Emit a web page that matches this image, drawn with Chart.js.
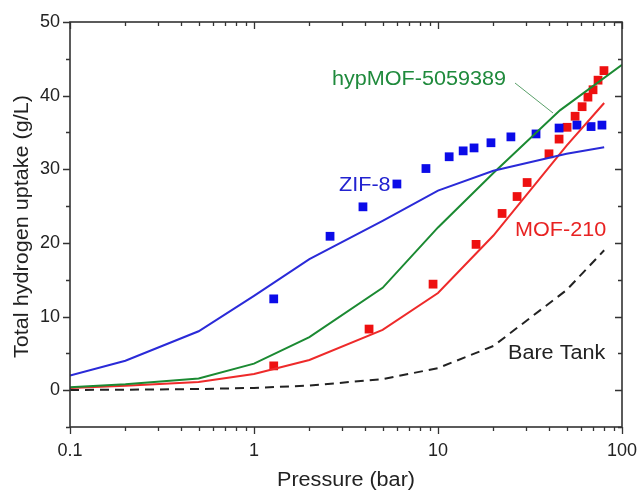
<!DOCTYPE html>
<html>
<head>
<meta charset="utf-8">
<script src="https://cdn.jsdelivr.net/npm/chart.js@4/dist/chart.umd.min.js"></script>
<style>
  html, body { margin: 0; padding: 0; background: #fff; }
  #c { display: block; }
</style>
</head>
<body>
<canvas id="c" width="637" height="492"></canvas>
<script>
// ---- data ----
const simPressure   = [0.1, 0.2, 0.5, 1, 2, 5, 10, 20, 50, 80];
const zif8Sim       = [2.0, 4.0, 8.0, 12.8, 17.8, 23.0, 27.1, 29.8, 32.1, 33.0];
const mof210Sim     = [0.3, 0.6, 1.1, 2.2, 4.1, 8.2, 13.2, 21.0, 33.2, 39.0];
const bareTank      = [0.03, 0.06, 0.16, 0.31, 0.63, 1.5, 3.0, 6.0, 13.6, 19.0];
const hypPressure   = [0.1, 0.2, 0.5, 1, 2, 5, 10, 20, 46, 100];
const hypMofSim     = [0.4, 0.8, 1.6, 3.6, 7.2, 13.9, 22.1, 29.5, 38.0, 44.2];

const zif8ExpPressure = [1.28, 2.59, 3.91, 5.98, 8.6, 11.5, 13.7, 15.7, 19.4, 24.9, 34.1, 45.5, 56.9, 67.9, 77.8];
const zif8Exp         = [12.4, 20.9, 24.9, 28.0, 30.1, 31.7, 32.5, 32.9, 33.6, 34.4, 34.8, 35.6, 36.0, 35.8, 36.0];
const mof210ExpPressure = [1.28, 4.22, 9.4, 16.1, 22.3, 26.9, 30.5, 40.1, 45.5, 50.3, 55.6, 60.7, 65.3, 69.6, 74.1, 79.8];
const mof210Exp         = [3.3, 8.3, 14.4, 19.8, 24.0, 26.3, 28.2, 32.1, 34.1, 35.7, 37.2, 38.5, 39.8, 40.8, 42.1, 43.4];

const xTickLabels = [0.1, 1, 10, 100];
const yTickLabels = [0, 10, 20, 30, 40, 50];
const seriesNames = ['ZIF-8', 'MOF-210', 'hypMOF-5059389', 'Bare Tank'];
const xTitle = 'Pressure (bar)';
const yTitle = 'Total hydrogen uptake (g/L)';

const pts = (xs, ys) => xs.map((x, i) => ({ x: x, y: ys[i] }));

const C_BLUE = '#2a2ad8', C_BLUE_PT = '#0b0be8';
const C_GREEN = '#1b8a32', C_GREEN_TXT = '#1f8a3c';
const C_RED = '#ee2a2a', C_RED_PT = '#ee1010';
const C_BLACK = '#222';
const FONT = '"Liberation Sans", Arial, sans-serif';

function stretchText(ctx, text, x, y, size, color, align, rot) {
  ctx.save();
  ctx.font = size + 'px ' + FONT;
  ctx.fillStyle = color;
  ctx.textBaseline = 'alphabetic';
  ctx.translate(x, y);
  if (rot) ctx.rotate(rot);
  ctx.scale(1.08, 1);
  ctx.textAlign = align || 'left';
  ctx.fillText(text, 0, 0);
  ctx.restore();
}

const framePlugin = {
  id: 'frame',
  afterDraw(chart) {
    const ctx = chart.ctx;
    const a = chart.chartArea;
    const xs = chart.scales.x, ys = chart.scales.y;
    ctx.save();
    ctx.strokeStyle = '#333';
    ctx.lineWidth = 1.6;
    ctx.strokeRect(a.left, a.top, a.right - a.left, a.bottom - a.top);
    ctx.lineWidth = 1.3;
    ctx.beginPath();
    // x ticks (bottom outward, top inward)
    for (let d = 0.1; d < 99; d *= 10) {
      for (let m = 1; m <= 10; m++) {
        const v = m * d;
        if (v > 100.0001) continue;
        const px = Math.round(xs.getPixelForValue(v)) + 0.5;
        const major = (m === 1 || m === 10);
        const len = major ? 7 : 4;
        ctx.moveTo(px, a.bottom); ctx.lineTo(px, a.bottom + len);
        ctx.moveTo(px, a.top); ctx.lineTo(px, a.top + len);
      }
    }
    // y ticks (left outward, right inward)
    for (let v = -5; v <= 50; v += 5) {
      const py = Math.round(ys.getPixelForValue(v)) + 0.5;
      const major = (v % 10 === 0);
      const len = major ? 7 : 4;
      ctx.moveTo(a.left, py); ctx.lineTo(a.left - len, py);
      ctx.moveTo(a.right, py); ctx.lineTo(a.right - len, py);
    }
    ctx.stroke();

    // leader line for hypMOF label
    ctx.strokeStyle = '#5aa06a';
    ctx.lineWidth = 1;
    ctx.beginPath();
    ctx.moveTo(515, 83);
    ctx.lineTo(553, 113);
    ctx.stroke();
    ctx.restore();

    // axis titles
    stretchText(ctx, xTitle, (a.left + a.right) / 2, 486, 20, '#222', 'center');
    stretchText(ctx, yTitle, 28, (a.top + a.bottom) / 2 + 2, 20, '#222', 'center', -Math.PI / 2);

    // series labels
    stretchText(ctx, seriesNames[2], 332, 85, 20, C_GREEN_TXT, 'left');
    stretchText(ctx, seriesNames[0], 339, 191, 20, '#2323d0', 'left');
    stretchText(ctx, seriesNames[1], 515, 236, 20, '#e82222', 'left');
    stretchText(ctx, seriesNames[3], 508, 359, 20, '#222', 'left');
  }
};

new Chart(document.getElementById('c'), {
  type: 'scatter',
  data: {
    datasets: [
      { label: seriesNames[3], data: pts(simPressure, bareTank), showLine: true,
        borderColor: C_BLACK, borderWidth: 2, borderDash: [9, 6], pointRadius: 0, tension: 0, fill: false },
      { label: seriesNames[0] + ' sim', data: pts(simPressure, zif8Sim), showLine: true,
        borderColor: C_BLUE, borderWidth: 2, pointRadius: 0, tension: 0, fill: false },
      { label: seriesNames[2], data: pts(hypPressure, hypMofSim), showLine: true,
        borderColor: C_GREEN, borderWidth: 2, pointRadius: 0, tension: 0, fill: false },
      { label: seriesNames[1] + ' sim', data: pts(simPressure, mof210Sim), showLine: true,
        borderColor: C_RED, borderWidth: 2, pointRadius: 0, tension: 0, fill: false },
      { label: seriesNames[0], data: pts(zif8ExpPressure, zif8Exp), showLine: false,
        pointStyle: 'rect', pointRadius: 6.2, borderWidth: 0, backgroundColor: C_BLUE_PT, borderColor: C_BLUE_PT },
      { label: seriesNames[1], data: pts(mof210ExpPressure, mof210Exp), showLine: false,
        pointStyle: 'rect', pointRadius: 6.2, borderWidth: 0, backgroundColor: C_RED_PT, borderColor: C_RED_PT }
    ]
  },
  options: {
    responsive: false,
    animation: false,
    devicePixelRatio: 1,
    layout: { padding: { top: 22, right: 15, left: 0, bottom: 0 } },
    plugins: { legend: { display: false }, tooltip: { enabled: false } },
    scales: {
      x: {
        type: 'logarithmic', position: 'bottom', min: 0.1, max: 100,
        afterFit: s => { s.height = 65; s.paddingLeft = 0; s.paddingRight = 0; },
        afterBuildTicks: s => { s.ticks = xTickLabels.map(v => ({ value: v, major: true })); },
        grid: { display: false, drawTicks: false },
        border: { display: false },
        ticks: { autoSkip: false, maxRotation: 0, padding: 13, color: '#222',
                 font: { family: FONT, size: 18 },
                 callback: v => String(v) }
      },
      y: {
        type: 'linear', min: -5, max: 50,
        afterFit: s => { s.width = 70; s.paddingTop = 0; s.paddingBottom = 0; },
        afterBuildTicks: s => { s.ticks = yTickLabels.map(v => ({ value: v })); },
        grid: { display: false, drawTicks: false },
        border: { display: false },
        ticks: { padding: 10, color: '#222', font: { family: FONT, size: 18 },
                 callback: v => String(v) }
      }
    }
  },
  plugins: [framePlugin]
});
</script>
</body>
</html>
